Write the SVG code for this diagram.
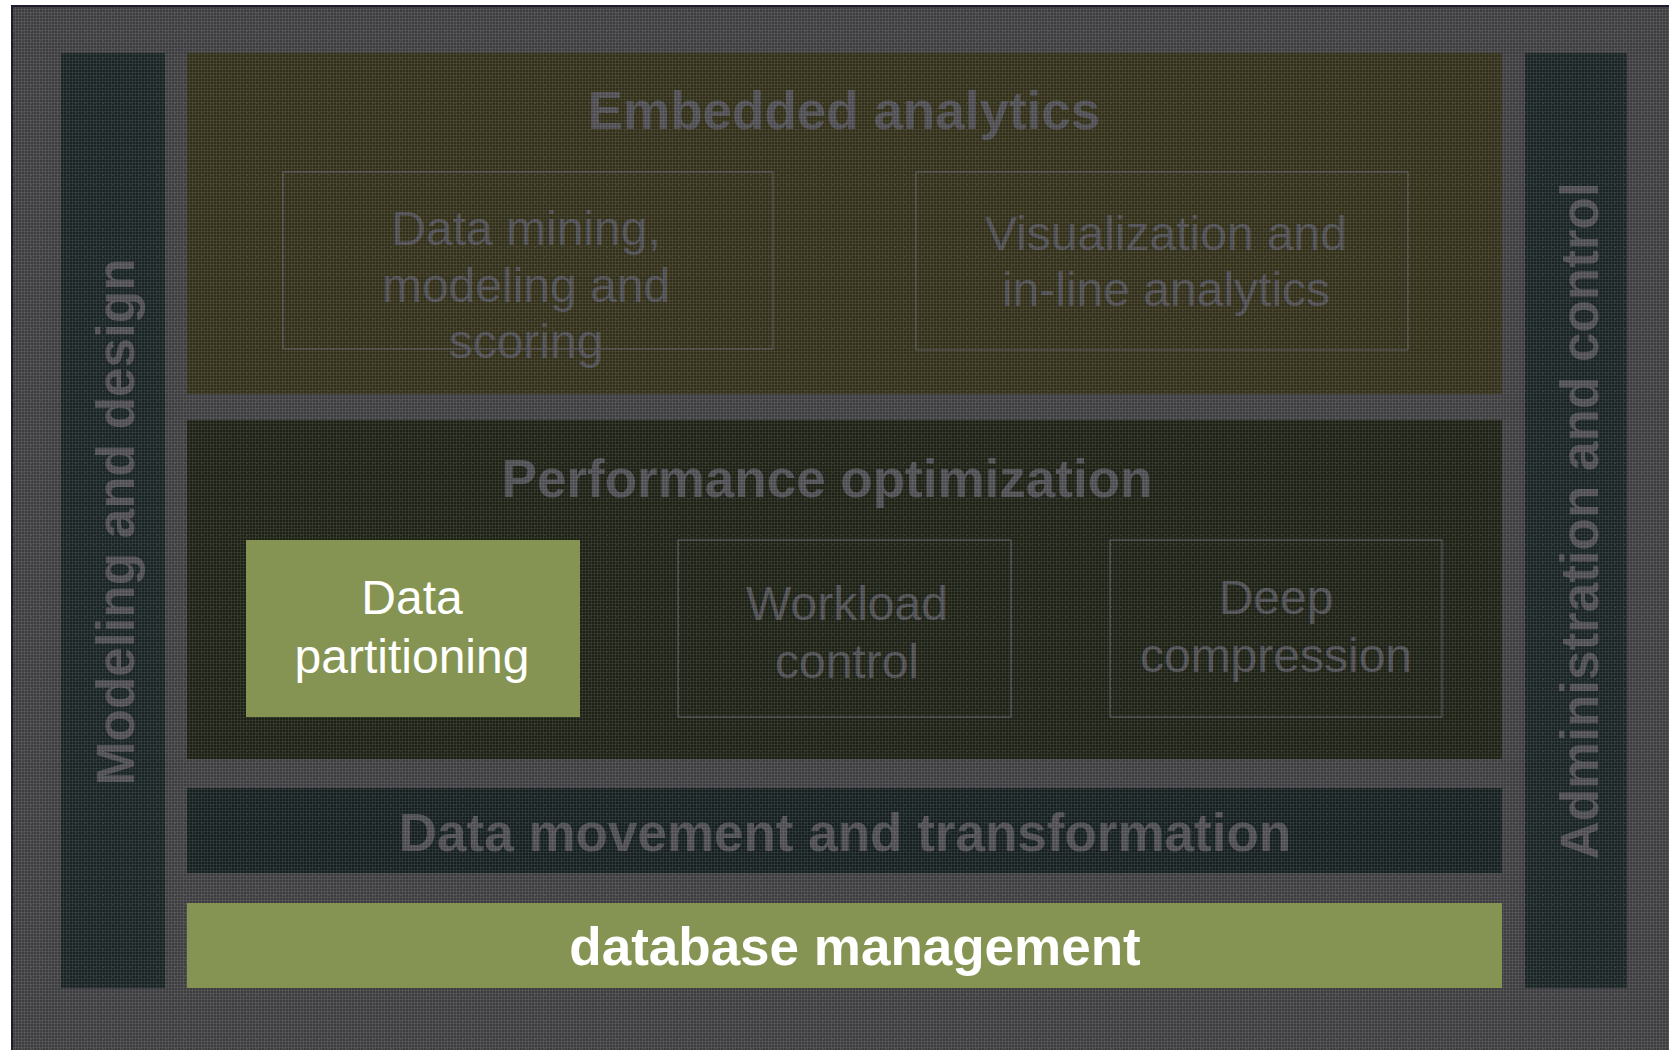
<svg xmlns="http://www.w3.org/2000/svg" width="1669" height="1050" viewBox="0 0 1669 1050">
  <defs>
    <pattern id="tex" width="3" height="3" patternUnits="userSpaceOnUse">
      <rect x="0" y="0" width="3" height="1" fill="#ffffff" fill-opacity="0.07"/>
      <rect x="0" y="0" width="1" height="3" fill="#ffffff" fill-opacity="0.07"/>
      <rect x="1" y="1" width="2" height="2" fill="#000000" fill-opacity="0.08"/>
    </pattern>
    <pattern id="dots" width="9" height="9" patternUnits="userSpaceOnUse">
      <rect x="4" y="4" width="1" height="1" fill="#ffffff" fill-opacity="0.12"/>
    </pattern>
  </defs>
  <style>
    .dim { font-family: "Liberation Sans", Arial, sans-serif; fill: #505055; text-anchor: middle; }
    .bold { font-weight: bold; font-size: 53px; }
    .reg { font-size: 48px; }
    .box { fill: none; stroke: #56565b; stroke-width: 1.2; }
    .hl { fill: #859452; }
    .white { font-family: "Liberation Sans", Arial, sans-serif; fill: #ffffff; text-anchor: middle; }
  </style>
  <rect x="0" y="0" width="1669" height="1050" fill="#ffffff"/>
  <rect id="background" x="12" y="6" width="1660" height="1050" fill="#424244" stroke="#221b2e" stroke-width="2"/>

  <g id="modeling-design">
    <rect x="61" y="53" width="104" height="935" fill="#1c2627"/>
    <text class="dim bold" transform="translate(134,522) rotate(-90)">Modeling and design</text>
  </g>
  <g id="administration-control">
    <rect x="1525" y="53" width="102" height="935" fill="#1c2627"/>
    <text class="dim bold" transform="translate(1598,521) rotate(-90)">Administration and control</text>
  </g>

  <g id="embedded-analytics">
    <rect x="187" y="53" width="1315" height="341" fill="#35331b"/>
    <text class="dim bold" x="844" y="129">Embedded analytics</text>
  </g>
  <g id="data-mining">
    <rect class="box" x="283" y="172" width="490" height="177"/>
    <text class="dim reg" x="526" y="245">Data mining,</text>
    <text class="dim reg" x="526" y="302">modeling and</text>
    <text class="dim reg" x="526" y="358">scoring</text>
  </g>
  <g id="visualization">
    <rect class="box" x="916" y="172" width="492" height="178"/>
    <text class="dim reg" x="1166" y="250">Visualization and</text>
    <text class="dim reg" x="1166" y="306">in-line analytics</text>
  </g>

  <g id="performance-optimization">
    <rect x="187" y="420" width="1315" height="339" fill="#1f2417"/>
    <text class="dim bold" x="827" y="497">Performance optimization</text>
  </g>
  <g id="workload-control">
    <rect class="box" x="678" y="540" width="333" height="177"/>
    <text class="dim reg" x="847" y="620">Workload</text>
    <text class="dim reg" x="847" y="678">control</text>
  </g>
  <g id="deep-compression">
    <rect class="box" x="1110" y="540" width="332" height="177"/>
    <text class="dim reg" x="1276" y="614">Deep</text>
    <text class="dim reg" x="1276" y="672">compression</text>
  </g>

  <g id="data-movement">
    <rect x="187" y="788" width="1315" height="85" fill="#182223"/>
    <text class="dim bold" x="845" y="851">Data movement and transformation</text>
  </g>

  <rect id="texture" x="13" y="7" width="1656" height="1043" fill="url(#tex)"/>
  <rect id="texture-dots" x="13" y="7" width="1656" height="1043" fill="url(#dots)"/>

  <g id="data-partitioning">
    <rect class="hl" x="246" y="540" width="334" height="177"/>
    <text class="white reg" x="412" y="614">Data</text>
    <text class="white reg" x="412" y="673">partitioning</text>
  </g>
  <g id="database-management">
    <rect class="hl" x="187" y="903" width="1315" height="85"/>
    <text class="white bold" x="855" y="965">database management</text>
  </g>

  <g id="connectors"></g>
</svg>
